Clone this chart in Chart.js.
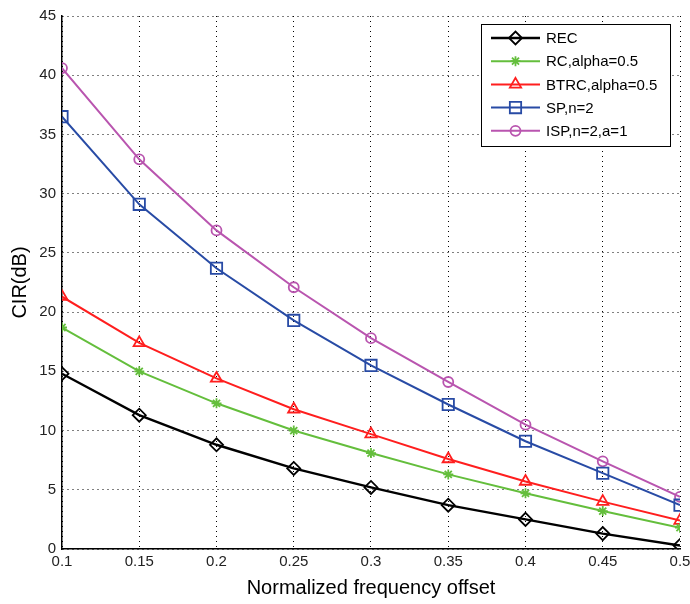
<!DOCTYPE html>
<html>
<head>
<meta charset="utf-8">
<script src="https://cdn.jsdelivr.net/npm/chart.js@4.4.1/dist/chart.umd.min.js"></script>
<style>
    html, body { margin: 0; padding: 0; background: #fff; }
</style>
</head>
<body>
<canvas id="cirChart" width="690" height="604"></canvas>
<script>
// data
var offsets = [0.1, 0.15, 0.2, 0.25, 0.3, 0.35, 0.4, 0.45, 0.5];
var xTickLabels = ['0.1', '0.15', '0.2', '0.25', '0.3', '0.35', '0.4', '0.45', '0.5'];
var yTickValues = [0, 5, 10, 15, 20, 25, 30, 35, 40, 45];

var seriesNames = ['REC', 'RC,alpha=0.5', 'BTRC,alpha=0.5', 'SP,n=2', 'ISP,n=2,a=1'];
var recValues  = [14.8, 11.3, 8.8, 6.8, 5.2, 3.7, 2.5, 1.3, 0.3];
var rcValues   = [18.7, 15.0, 12.3, 10.0, 8.1, 6.3, 4.7, 3.2, 1.8];
var btrcValues = [21.3, 17.4, 14.4, 11.8, 9.7, 7.6, 5.7, 4.0, 2.4];
var spValues   = [36.5, 29.1, 23.7, 19.3, 15.5, 12.2, 9.1, 6.4, 3.7];
var ispValues  = [40.6, 32.9, 26.9, 22.1, 17.8, 14.1, 10.5, 7.4, 4.4];

var FONT = '"Liberation Sans", Arial, Helvetica, sans-serif';

function toPoints(values) {
    return offsets.map(function (x, i) {
        return { x: x, y: values[i] };
    });
}

function makeSet(label, values, color, style, radius, width) {
    return {
        label: label,
        data: toPoints(values),
        borderColor: color,
        backgroundColor: 'rgba(0,0,0,0)',
        borderWidth: width,
        pointStyle: style,
        pointRadius: radius,
        pointBorderWidth: 1.8,
        pointBorderColor: color,
        pointBackgroundColor: 'rgba(0,0,0,0)',
        tension: 0,
        fill: false
    };
}

var datasets = [
    makeSet(seriesNames[0], recValues, 'rgb(0,0,0)', 'rectRot', 6.5, 2.4),
    makeSet(seriesNames[1], rcValues, 'rgb(100,190,60)', 'star', 5, 2),
    makeSet(seriesNames[2], btrcValues, 'rgb(255,30,30)', 'triangle', 6.5, 2),
    makeSet(seriesNames[3], spValues, 'rgb(40,75,165)', 'rect', 8, 2),
    makeSet(seriesNames[4], ispValues, 'rgb(185,85,175)', 'circle', 5, 2)
];

// legend drawn inside the plot, matlab style
var boxLegend = {
    id: 'boxLegend',
    afterDatasetsDraw: function (chart) {
        var ctx = chart.ctx;
        var left = 481, top = 24, right = 670, bottom = 146;
        ctx.save();
        ctx.fillStyle = '#fff';
        ctx.fillRect(left, top, right - left, bottom - top);
        ctx.strokeStyle = '#000';
        ctx.lineWidth = 1;
        ctx.strokeRect(left + 0.5, top + 0.5, right - left, bottom - top);

        ctx.font = '15px ' + FONT;
        ctx.textBaseline = 'middle';
        chart.data.datasets.forEach(function (ds, i) {
            var y = 38 + i * 23.2;
            ctx.strokeStyle = ds.borderColor;
            ctx.lineWidth = ds.borderWidth;
            ctx.beginPath();
            ctx.moveTo(491, y);
            ctx.lineTo(540, y);
            ctx.stroke();

            ctx.lineWidth = ds.pointBorderWidth;
            ctx.fillStyle = 'rgba(0,0,0,0)';
            Chart.helpers.drawPoint(ctx, {
                pointStyle: ds.pointStyle,
                radius: ds.pointRadius,
                borderWidth: ds.pointBorderWidth,
                rotation: 0
            }, 515.5, y);

            ctx.fillStyle = '#000';
            ctx.fillText(ds.label, 546, y + 1);
        });
        ctx.restore();
    }
};

var ctx = document.getElementById('cirChart').getContext('2d');
var cirChart = new Chart(ctx, {
    type: 'line',
    data: { datasets: datasets },
    options: {
        responsive: false,
        animation: false,
        devicePixelRatio: 1,
        layout: { padding: { top: 16, right: 10, left: 0, bottom: 0 } },
        plugins: {
            legend: { display: false },
            tooltip: { enabled: false }
        },
        scales: {
            x: {
                type: 'linear',
                min: 0.1,
                max: 0.5,
                afterBuildTicks: function (scale) {
                    scale.ticks = offsets.map(function (v) { return { value: v }; });
                },
                afterFit: function (scale) {
                    scale.height = 55;
                    scale.paddingRight = 0;
                    scale.paddingLeft = 0;
                },
                ticks: {
                    autoSkip: false,
                    maxRotation: 0,
                    padding: 4,
                    color: '#222',
                    font: { family: FONT, size: 15 },
                    callback: function (value, index) { return xTickLabels[index]; }
                },
                grid: { color: '#000', lineWidth: 1, drawTicks: false },
                border: { display: true, color: '#000', width: 1.5, dash: [1, 4] },
                title: {
                    display: true,
                    text: 'Normalized frequency offset',
                    color: '#000',
                    font: { family: FONT, size: 20 },
                    padding: { top: 0, bottom: 4 }
                }
            },
            y: {
                type: 'linear',
                min: 0,
                max: 45,
                afterBuildTicks: function (scale) {
                    scale.ticks = yTickValues.map(function (v) { return { value: v }; });
                },
                afterFit: function (scale) { scale.width = 62; },
                ticks: {
                    padding: 6,
                    color: '#222',
                    font: { family: FONT, size: 15 },
                    callback: function (value) { return String(value); }
                },
                grid: { color: '#000', lineWidth: 1, drawTicks: false },
                border: { display: true, color: '#000', width: 1.5, dash: [1, 4] },
                title: {
                    display: true,
                    text: 'CIR(dB)',
                    color: '#000',
                    font: { family: FONT, size: 20 },
                    padding: { top: 8, bottom: 0 }
                }
            }
        }
    },
    plugins: [boxLegend]
});
</script>
</body>
</html>
